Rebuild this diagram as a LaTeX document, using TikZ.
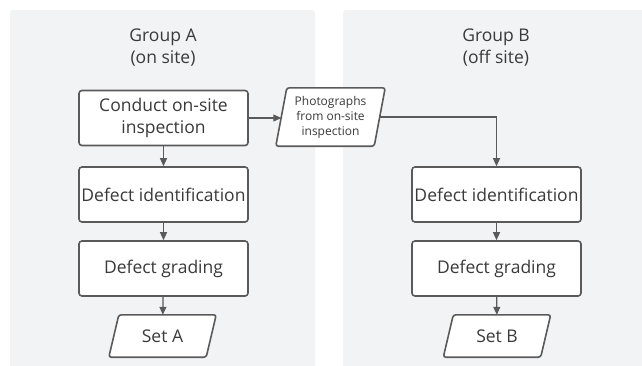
\documentclass[tikz,border=0pt]{standalone}
\usepackage{fontspec}
\setmainfont{Open Sans}
\usetikzlibrary{arrows.meta}
\definecolor{panel}{HTML}{F2F3F5}
\definecolor{edge}{HTML}{5A5A5A}
\definecolor{txt}{HTML}{3A3A3A}
\tikzset{
  panelbox/.style={fill=panel, draw=none, rounded corners=3pt},
  procbox/.style={draw=edge, line width=1.6pt, fill=white, rounded corners=3pt, minimum width=169pt, minimum height=55pt, align=center, text=txt, font=\fontsize{17.5}{21.5}\selectfont, inner sep=1pt},
  paratext/.style={minimum width=97pt, minimum height=42pt, align=center, text=txt, font=\fontsize{17.5}{21.5}\selectfont, inner sep=1pt},
  para/.style={draw=edge, line width=1.6pt, fill=white, rounded corners=2.5pt},
  title/.style={align=center, text=txt, font=\fontsize{17.5}{22}\selectfont},
  conn/.style={draw=edge, line width=1.2pt, -{Triangle[length=8pt,width=7pt]}}
}
\begin{document}
\begin{tikzpicture}[x=1pt,y=-1pt]
\useasboundingbox (0,0) rectangle (642,365);
\fill[white] (0,0) rectangle (642,365);
\fill[panelbox] (10,10) rectangle (315,370);
\fill[panelbox] (343,10) rectangle (650,370);

\node[title] (ta) at (163,48) {Group A\\(on site)};
\node[title] (tb) at (496,48) {Group B\\(off site)};

\node[procbox] (a1) at (163.5,118) {Conduct on-site\\inspection};
\node[procbox] (a2) at (163.5,194.5) {Defect identification};
\node[procbox] (a3) at (163.5,268.5) {Defect grading};
\node[paratext] (sa) at (162.5,336) {};
\draw[para] ([xshift=5pt]sa.north west) -- ([xshift=5pt]sa.north east) -- ([xshift=-5pt]sa.south east) -- ([xshift=-5pt]sa.south west) -- cycle;
\node[paratext] at (sa) {Set A};

\node[procbox] (b1) at (496.5,194.5) {Defect identification};
\node[procbox] (b2) at (496.5,268.5) {Defect grading};
\node[paratext] (sb) at (497,336) {};
\draw[para] ([xshift=5pt]sb.north west) -- ([xshift=5pt]sb.north east) -- ([xshift=-5pt]sb.south east) -- ([xshift=-5pt]sb.south west) -- cycle;
\node[paratext] at (sb) {Set B};

\node[paratext, minimum width=98pt, minimum height=58pt] (ph) at (330.5,117) {};
\draw[para] ([xshift=5.5pt]ph.north west) -- ([xshift=5.5pt]ph.north east) -- ([xshift=-5.5pt]ph.south east) -- ([xshift=-5.5pt]ph.south west) -- cycle;
\node[align=center, text=txt, font=\fontsize{12}{15}\selectfont] at (ph) {Photographs\\from on-site\\inspection};

\draw[conn] (a1) -- (a2);
\draw[conn] (a2) -- (a3);
\draw[conn] (a3) -- (sa);
\draw[conn] (a1.east) -- (ph.west |- a1.east);
\draw[conn] (ph.east) -| (b1.north);
\draw[conn] (b1) -- (b2);
\draw[conn] (b2) -- (sb);
\end{tikzpicture}
\end{document}
